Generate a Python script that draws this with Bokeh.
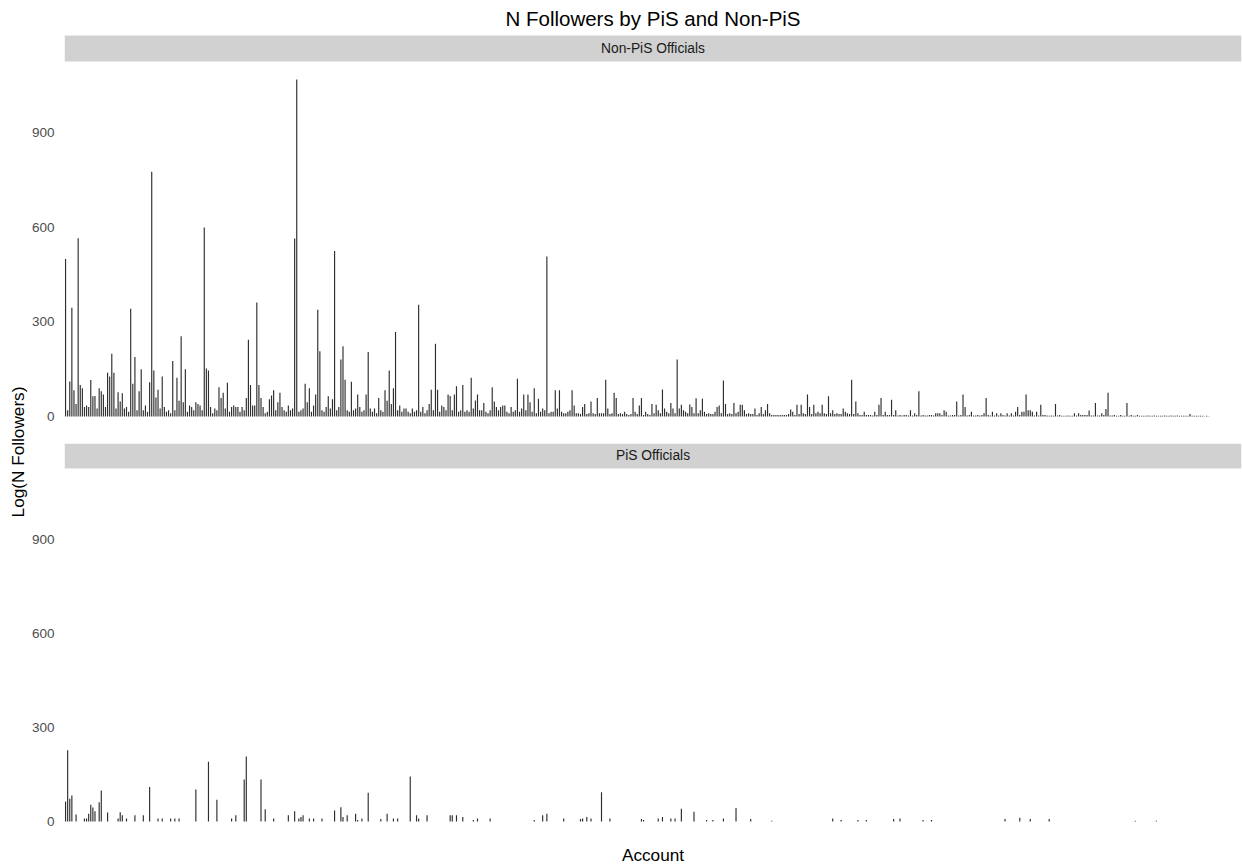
import math
from bokeh.plotting import figure
from bokeh.layouts import row, column
from bokeh.models import Range1d, FixedTicker, BoxAnnotation, Label
from bokeh.embed import file_html
from bokeh.resources import INLINE

FONT = "Liberation Sans"
BAR = "#2e2e2e"

# ---- data: followers per account (accounts numbered 1..N in display order) ----
nonpis_followers = [
    500, 20, 111, 345, 83, 40, 566, 100, 90, 30, 35, 30, 116, 64, 65, 25, 90, 80, 70, 30,
    139, 127, 199, 139, 25, 77, 48, 74, 25, 30, 15, 342, 104, 189, 20, 80, 150, 20, 35, 15,
    109, 777, 146, 60, 85, 25, 127, 30, 15, 20, 10, 176, 20, 123, 50, 255, 45, 150, 15, 35,
    30, 20, 45, 40, 35, 20, 600, 152, 146, 30, 10, 25, 20, 93, 59, 75, 25, 107, 15, 30,
    35, 30, 30, 15, 30, 20, 59, 244, 100, 35, 35, 362, 100, 59, 30, 10, 15, 55, 67, 83,
    20, 45, 75, 30, 20, 15, 35, 20, 25, 565, 1070, 15, 20, 25, 104, 45, 90, 15, 35, 70,
    339, 207, 20, 15, 30, 64, 25, 55, 525, 20, 30, 181, 223, 117, 20, 15, 110, 20, 25, 70,
    30, 15, 20, 70, 205, 25, 15, 25, 10, 59, 20, 15, 83, 50, 146, 40, 90, 268, 20, 35,
    15, 25, 25, 15, 10, 25, 15, 20, 355, 15, 30, 10, 20, 40, 85, 20, 231, 85, 15, 35,
    30, 20, 70, 65, 20, 70, 96, 15, 20, 100, 15, 20, 15, 123, 25, 51, 70, 20, 20, 43,
    15, 10, 20, 93, 48, 30, 20, 30, 35, 35, 15, 10, 30, 15, 20, 120, 15, 25, 70, 20,
    70, 45, 15, 90, 10, 56, 15, 25, 20, 508, 10, 15, 15, 83, 25, 83, 15, 10, 10, 15,
    20, 83, 35, 10, 10, 8, 30, 40, 8, 10, 48, 10, 8, 59, 10, 10, 10, 117, 25, 8,
    10, 75, 59, 8, 10, 8, 15, 8, 5, 8, 59, 15, 8, 35, 59, 5, 15, 8, 5, 40,
    10, 37, 20, 10, 86, 25, 15, 10, 43, 25, 10, 181, 25, 37, 20, 15, 10, 38, 30, 10,
    58, 10, 20, 56, 15, 8, 10, 8, 8, 15, 30, 35, 10, 114, 40, 8, 10, 8, 43, 10,
    15, 37, 37, 20, 8, 10, 8, 8, 25, 5, 10, 30, 8, 20, 40, 10, 5, 5, 5, 5,
    5, 5, 5, 5, 8, 22, 15, 5, 37, 8, 37, 10, 8, 70, 30, 8, 37, 10, 15, 10,
    37, 10, 8, 64, 10, 20, 8, 10, 8, 8, 25, 15, 10, 8, 117, 8, 48, 10, 5, 5,
    15, 5, 5, 5, 3, 15, 5, 37, 59, 5, 15, 5, 5, 53, 5, 20, 3, 5, 3, 5,
    5, 3, 20, 3, 10, 5, 80, 3, 5, 3, 3, 5, 5, 3, 10, 10, 10, 5, 20, 15,
    3, 3, 5, 5, 48, 3, 5, 70, 30, 3, 5, 15, 3, 3, 5, 3, 5, 10, 59, 5,
    3, 15, 3, 10, 3, 10, 5, 3, 10, 3, 10, 3, 15, 30, 5, 15, 15, 70, 20, 20,
    15, 3, 15, 3, 37, 5, 5, 3, 2, 3, 2, 40, 3, 5, 2, 2, 2, 3, 2, 2,
    10, 3, 10, 5, 5, 5, 5, 19, 3, 3, 43, 3, 3, 10, 5, 24, 75, 3, 3, 5,
    2, 2, 5, 2, 2, 43, 2, 5, 2, 2, 5, 2, 2, 2, 2, 3, 2, 2, 3, 2,
    2, 2, 2, 3, 2, 2, 3, 2, 2, 3, 2, 2, 2, 2, 2, 8, 2, 2, 2, 2,
    2, 2, 1, 2, 1, 0, 0, 0, 0, 0, 0, 0, 0, 0, 0, 0, 0, 0, 0, 0,
]

pis_accounts = [
    1, 2, 3, 4, 6, 10, 11, 12, 13, 14, 15, 17, 18, 21, 26, 27, 28, 30, 34, 38,
    41, 45, 47, 51, 53, 55, 63, 69, 73, 80, 82, 86, 87, 94, 96, 100, 107, 110, 112, 113,
    114, 117, 119, 123, 129, 132, 133, 135, 139, 140, 142, 145, 151, 154, 157, 159, 165, 168, 169, 173,
    184, 185, 187, 190, 195, 197, 203, 224, 228, 230, 238, 246, 247, 249, 251, 256, 260, 275, 276, 283,
    285, 289, 291, 294, 300, 306, 309, 314, 320, 327, 337, 366, 370, 378, 382, 395, 398, 409, 413, 448,
    455, 460, 469, 510, 520,
]
pis_followers = [
    64, 228, 73, 83, 23, 10, 10, 25, 54, 45, 33, 62, 99, 29, 10, 30, 20, 10, 20, 20,
    110, 10, 10, 10, 10, 10, 102, 191, 70, 10, 20, 134, 208, 134, 39, 10, 20, 33, 10, 15,
    20, 10, 10, 10, 35, 46, 15, 20, 25, 5, 10, 92, 8, 25, 10, 10, 144, 20, 10, 20,
    20, 20, 20, 15, 5, 10, 10, 5, 20, 25, 10, 8, 10, 15, 10, 94, 10, 8, 5, 10,
    15, 10, 10, 41, 31, 5, 5, 10, 43, 8, 3, 10, 5, 5, 5, 8, 10, 5, 5, 8,
    12, 8, 8, 3, 3,
]

y_ticks = [0, 300, 600, 900]
panel_labels = ["Non-PiS Officials", "PiS Officials"]
chart_title = "N Followers by PiS and Non-PiS"

N = len(nonpis_followers)
accounts = list(range(1, N + 1))

Y_START = -53.97
STRIP_BOTTOM = 1127.0


def make_panel(height, border_top, border_bottom, y_end, strip_top, strip_center, label):
    p = figure(
        width=1214, height=height,
        x_range=Range1d(0.5, N + 0.5), y_range=Range1d(Y_START, y_end),
        output_backend="svg", toolbar_location=None,
        min_border_left=35, min_border_right=1,
        min_border_top=border_top, min_border_bottom=border_bottom,
        outline_line_color=None, background_fill_color="white",
    )
    p.xgrid.visible = False
    p.ygrid.visible = False
    yax = p.yaxis[0]
    yax.ticker = FixedTicker(ticks=y_ticks)
    yax.axis_line_color = None
    yax.major_tick_line_color = None
    yax.minor_tick_line_color = None
    yax.major_tick_out = 0
    yax.major_tick_in = 0
    yax.major_label_standoff = 10
    yax.major_label_text_font = FONT
    yax.major_label_text_font_size = "13.5px"
    yax.major_label_text_color = "#4d4d4d"
    # facet strip
    p.add_layout(BoxAnnotation(left=0.5, right=N + 0.5, bottom=STRIP_BOTTOM, top=strip_top,
                               fill_color="#d1d1d1", fill_alpha=1.0, line_color=None))
    p.add_layout(Label(x=(N + 1) / 2, y=strip_center, text=label, text_align="center",
                       text_baseline="middle", text_font=FONT, text_font_size="13.8px",
                       text_color="#1a1a1a"))
    return p


# top panel: frame spans the title area too (pixel 0..433)
top = make_panel(438, 0, 5, 1320.6, 1209.5, 1168.3, panel_labels[0])
top.add_layout(Label(x=(N + 1) / 2, y=1264.4, text=chart_title, text_align="center",
                     text_baseline="alphabetic", text_font=FONT, text_font_size="20.5px",
                     text_color="black"))
top.xaxis.visible = False
top.vbar(x=accounts, top=nonpis_followers, bottom=0, width=0.55,
         fill_color=BAR, line_color=None)

bot = make_panel(429, 5, 27, 1206.4, 1206.4, 1166.7, panel_labels[1])
xax = bot.xaxis[0]
xax.ticker = FixedTicker(ticks=[])
xax.axis_line_color = None
xax.major_tick_line_color = None
xax.minor_tick_line_color = None
xax.major_tick_out = 0
xax.major_label_text_font_size = "0px"
xax.axis_label = "Account"
xax.axis_label_text_font = FONT
xax.axis_label_text_font_size = "17.2px"
xax.axis_label_text_font_style = "normal"
xax.axis_label_text_color = "black"
xax.axis_label_standoff = 6
bot.vbar(x=pis_accounts, top=pis_followers, bottom=0, width=0.55,
         fill_color=BAR, line_color=None)

ylab = figure(width=28, height=867, x_range=Range1d(0, 28), y_range=Range1d(867, 0),
              output_backend="svg", toolbar_location=None, min_border=0,
              x_axis_location=None, y_axis_location=None, outline_line_color=None)
ylab.grid.visible = False
ylab.add_layout(Label(x=17.5, y=451.5, text="Log(N Followers)", angle=math.pi / 2,
                      text_align="center", text_baseline="middle", text_font=FONT,
                      text_font_size="17.2px", text_color="black"))

layout = row(ylab, column(top, bot))
open("out.html", "w").write(file_html(layout, INLINE))
